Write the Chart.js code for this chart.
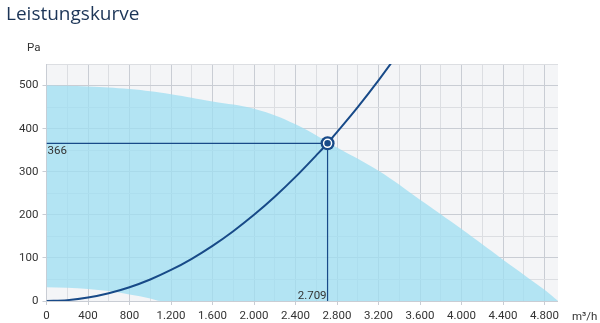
<!DOCTYPE html>
<html>
<head>
<meta charset="utf-8">
<script src="https://cdn.jsdelivr.net/npm/chart.js@4"></script>
<style>
  html, body { margin: 0; padding: 0; background: #fff; }
  #wrap { width: 600px; height: 323px; position: relative; }
</style>
</head>
<body>
<div id="wrap"><canvas id="myChart" width="600" height="323"></canvas></div>
<script>
// upper edge of the fan's working range (Pa over m3/h)
const upperFlow = [0, 400, 800, 1200, 1600, 2000, 2400, 2800, 3200, 3600, 4000, 4400, 4800, 4930];
const upperPressure = [500, 498, 492, 480, 463, 446, 410, 356, 302, 235, 167, 96, 26, 0];

// lower edge of the range
const lowerFlow = [0, 200, 400, 600, 800, 1000, 1100, 4930];
const lowerPressure = [32, 31, 28, 23, 15, 6, 0, 0];

// system curve
const systemFlow = [0, 200, 400, 600, 800, 1000, 1200, 1400, 1600, 1800, 2000, 2200, 2400, 2600, 2709, 2800, 3000, 3200, 3400];
const systemPressure = [0, 2, 8, 18, 32, 50, 72, 98, 128, 162, 200, 242, 288, 338, 366, 392, 450, 512, 578];

// operating point
const opFlow = 2709;
const opPressure = 366;
const opFlowLabel = '2.709';
const opPressureLabel = '366';

const navy = '#184a88';

function toPoints(xs, ys) {
    return xs.map((x, i) => ({ x: x, y: ys[i] }));
}

function deNumber(v) {
    return String(v).replace(/\B(?=(\d{3})+(?!\d))/g, '.');
}

const plotBackground = {
    id: 'plotBackground',
    beforeDraw(chart) {
        const a = chart.chartArea;
        const ctx = chart.ctx;
        ctx.save();
        ctx.fillStyle = '#f4f5f7';
        ctx.fillRect(a.left, a.top, a.right - a.left, a.bottom - a.top);
        ctx.restore();
    }
};

const extraText = {
    id: 'extraText',
    afterDraw(chart) {
        const ctx = chart.ctx;
        const xs = chart.scales.x;
        const ys = chart.scales.y;
        ctx.save();
        // title
        ctx.fillStyle = '#1c3557';
        ctx.font = '500 19px "Open Sans"';
        ctx.textBaseline = 'alphabetic';
        ctx.textAlign = 'left';
        ctx.fillText('Leistungskurve', 6, 20);
        // axis units
        ctx.fillStyle = '#333';
        ctx.font = '11.5px Roboto';
        ctx.fillText('Pa', 27, 51);
        ctx.fillText('m³/h', 572, 320);
        // operating point values
        const px = xs.getPixelForValue(opFlow);
        const py = ys.getPixelForValue(opPressure);
        ctx.textBaseline = 'top';
        ctx.fillText(opPressureLabel, xs.getPixelForValue(0) + 1, py + 2);
        ctx.textAlign = 'right';
        ctx.textBaseline = 'bottom';
        ctx.fillText(opFlowLabel, px - 1, ys.getPixelForValue(0) + 1);
        ctx.restore();
    }
};

const majorGrid = '#c9cdd4';
const minorGrid = '#dcdee2';

const ctx = document.getElementById('myChart').getContext('2d');
const myChart = new Chart(ctx, {
    type: 'line',
    data: {
        datasets: [
            {
                // operating point, inner
                data: [{ x: opFlow, y: opPressure }],
                showLine: false,
                pointRadius: 4,
                pointBackgroundColor: navy,
                pointBorderColor: '#fff',
                pointBorderWidth: 1.5,
                order: 0
            },
            {
                // operating point, outer ring
                data: [{ x: opFlow, y: opPressure }],
                showLine: false,
                pointRadius: 7,
                pointBackgroundColor: navy,
                pointBorderWidth: 0,
                order: 1
            },
            {
                data: toPoints(systemFlow, systemPressure),
                borderColor: navy,
                borderWidth: 2,
                pointRadius: 0,
                cubicInterpolationMode: 'monotone',
                fill: false,
                order: 2
            },
            {
                // crosshair to the axes
                data: [{ x: 0, y: opPressure }, { x: opFlow, y: opPressure }, { x: opFlow, y: 0 }],
                borderColor: navy,
                borderWidth: 1.2,
                pointRadius: 0,
                tension: 0,
                fill: false,
                order: 3
            },
            {
                data: toPoints(upperFlow, upperPressure),
                borderWidth: 0,
                borderColor: 'rgba(0,0,0,0)',
                backgroundColor: 'rgba(157,221,242,0.75)',
                pointRadius: 0,
                tension: 0.4,
                fill: '+1',
                order: 4
            },
            {
                data: toPoints(lowerFlow, lowerPressure),
                borderWidth: 0,
                borderColor: 'rgba(0,0,0,0)',
                pointRadius: 0,
                cubicInterpolationMode: 'monotone',
                fill: false,
                order: 5
            }
        ]
    },
    options: {
        responsive: false,
        animation: false,
        layout: { padding: { top: 64, right: 42, left: 0, bottom: 0 } },
        plugins: {
            legend: { display: false },
            tooltip: { enabled: false }
        },
        scales: {
            x: {
                type: 'linear',
                min: 0,
                max: 4930,
                afterFit: (s) => { s.height = 22; },
                ticks: {
                    stepSize: 200,
                    includeBounds: false,
                    autoSkip: false,
                    maxRotation: 0,
                    padding: 4,
                    color: '#333',
                    font: { family: 'Roboto', size: 11.5 },
                    callback: (v) => (v % 400 === 0 ? deNumber(v) : '')
                },
                grid: {
                    color: (c) => (c.tick && c.tick.value % 400 === 0 ? majorGrid : minorGrid),
                    tickColor: (c) => (c.tick && c.tick.value % 400 === 0 ? majorGrid : 'rgba(0,0,0,0)'),
                    tickLength: 4
                },
                border: { display: false }
            },
            y: {
                min: 0,
                max: 550,
                afterFit: (s) => { s.width = 46.5; },
                ticks: {
                    stepSize: 50,
                    autoSkip: false,
                    padding: 4,
                    color: '#333',
                    font: { family: 'Roboto', size: 11.5 },
                    callback: (v) => (v % 100 === 0 ? deNumber(v) : '')
                },
                grid: {
                    color: (c) => (c.tick && c.tick.value % 100 === 0 ? majorGrid : minorGrid),
                    tickColor: (c) => (c.tick && c.tick.value % 100 === 0 ? majorGrid : 'rgba(0,0,0,0)'),
                    tickLength: 4
                },
                border: { display: true, color: majorGrid }
            }
        }
    },
    plugins: [plotBackground, extraText]
});
</script>
</body>
</html>
